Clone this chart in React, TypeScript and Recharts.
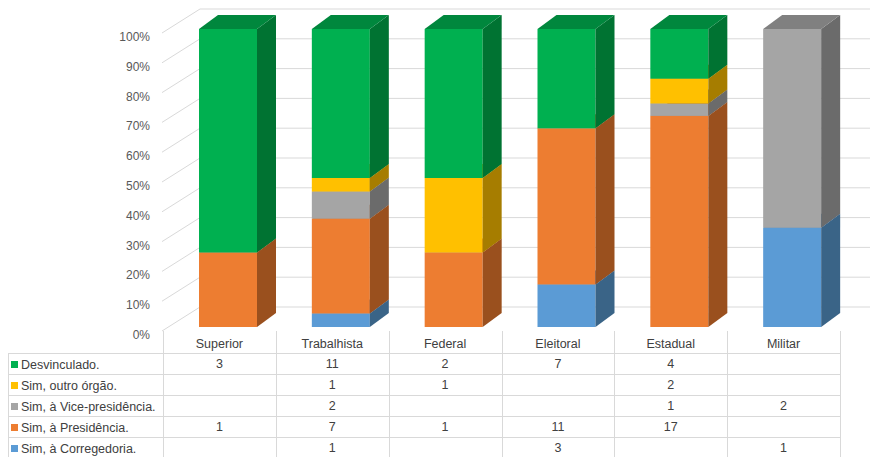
import React from 'react';
import { BarChart, Bar, XAxis, YAxis, CartesianGrid } from 'recharts';

const categories = ['Superior', 'Trabalhista', 'Federal', 'Eleitoral', 'Estadual', 'Militar'];
const desvinculado: (number | null)[] = [3, 11, 2, 7, 4, null];
const outroOrgao: (number | null)[] = [null, 1, 1, null, 2, null];
const vicePresidencia: (number | null)[] = [null, 2, null, null, 1, 2];
const presidencia: (number | null)[] = [1, 7, 1, 11, 17, null];
const corregedoria: (number | null)[] = [null, 1, null, 3, null, 1];
const yTicks = [0, 0.1, 0.2, 0.3, 0.4, 0.5, 0.6, 0.7, 0.8, 0.9, 1];
const yTickLabels = ['0%', '10%', '20%', '30%', '40%', '50%', '60%', '70%', '80%', '90%', '100%'];

// stack order: bottom to top
const series = [
  { key: 'corregedoria', name: 'Sim, à Corregedoria.', values: corregedoria, front: '#5B9BD5', side: '#3A6487', top: '#4B80B0' },
  { key: 'presidencia', name: 'Sim, à Presidência.', values: presidencia, front: '#ED7D31', side: '#9A501E', top: '#C4672A' },
  { key: 'vice', name: 'Sim, à Vice-presidência.', values: vicePresidencia, front: '#A5A5A5', side: '#6B6B6B', top: '#808080' },
  { key: 'outro', name: 'Sim, outro órgão.', values: outroOrgao, front: '#FFC000', side: '#A67D00', top: '#D9A300' },
  { key: 'desv', name: 'Desvinculado.', values: desvinculado, front: '#00B050', side: '#007332', top: '#00873D' },
];

const data = categories.map((c, i) => {
  const row: Record<string, any> = { category: c };
  series.forEach((s) => {
    row[s.key] = s.values[i] ?? 0;
  });
  return row;
});

const SHIFT = 9;
const DX = 19;
const DY = -14;

const make3D = (front: string, side: string, top: string) => (props: any) => {
  const { x, y, width, height } = props;
  if (!height || height <= 0.01 || !width) return <g />;
  const X = x + SHIFT;
  return (
    <g>
      <rect x={X} y={y} width={width} height={height} fill={front} />
      <polygon
        points={`${X + width},${y} ${X + width + DX},${y + DY} ${X + width + DX},${y + height + DY} ${X + width},${y + height}`}
        fill={side}
      />
      <polygon
        points={`${X},${y} ${X + DX},${y + DY} ${X + width + DX},${y + DY} ${X + width},${y}`}
        fill={top}
      />
    </g>
  );
};

const gridLine = (p: any) => {
  const { x1, x2, y1 } = p;
  return (
    <g key={p.key}>
      <line x1={x1 + 37} y1={y1 - 20} x2={x2 + 30} y2={y1 - 20} stroke="#D9D9D9" strokeWidth={1} />
      <line x1={x1 - 1} y1={y1 + 4} x2={x1 + 37} y2={y1 - 20} stroke="#D9D9D9" strokeWidth={1} />
    </g>
  );
};

const YTick = (props: any) => {
  const { y, payload, index } = props;
  const idx = yTicks.findIndex((t) => Math.abs(t - payload.value) < 1e-6);
  const label = yTickLabels[idx >= 0 ? idx : index] ?? '';
  return (
    <text x={150} y={y + 8} textAnchor="end" dominantBaseline="central" fontSize={12} fill="#595959" fontFamily="Liberation Sans, Arial, sans-serif">
      {label}
    </text>
  );
};

const PLOT_LEFT = 163;
const PLOT_RIGHT = 840;
const COL_W = (PLOT_RIGHT - PLOT_LEFT) / categories.length;
const ROW_TOPS = [353, 374, 395, 416, 437];
const ROW_H = 21;
const tableRows = [...series].reverse();

export default function App() {
  const font = 'Liberation Sans, Arial, sans-serif';
  return (
    <div style={{ position: 'absolute', left: 0, top: 0, width: 873, height: 457, background: '#fff', fontFamily: font, overflow: 'hidden' }}>
      <BarChart
        width={873}
        height={350}
        data={data}
        stackOffset="expand"
        margin={{ top: 29, right: 33, bottom: 23, left: 103 }}
        barSize={58}
      >
        <CartesianGrid vertical={false} horizontal={gridLine} />
        <XAxis dataKey="category" hide />
        <YAxis width={60} ticks={yTicks} domain={[0, 1]} axisLine={false} tickLine={false} tick={<YTick />} interval={0} />
        {series.map((s) => (
          <Bar key={s.key} dataKey={s.key} name={s.name} stackId="a" isAnimationActive={false} shape={make3D(s.front, s.side, s.top)} />
        ))}
      </BarChart>
      {/* data table */}
      {categories.map((c, i) => (
        <div
          key={c}
          style={{ position: 'absolute', left: PLOT_LEFT + i * COL_W, top: 336, width: COL_W, height: 17, lineHeight: '17px', textAlign: 'center', fontSize: 12.5, color: '#404040' }}
        >
          {c}
        </div>
      ))}
      {Array.from({ length: categories.length + 1 }).map((_, k) => (
        <div key={'v' + k} style={{ position: 'absolute', left: PLOT_LEFT + k * COL_W, top: 331, width: 1, height: 126, background: '#D9D9D9' }} />
      ))}
      <div style={{ position: 'absolute', left: 8, top: 353, width: 1, height: 104, background: '#D9D9D9' }} />
      {[...ROW_TOPS, 457].map((t, k) => (
        <div key={'h' + k} style={{ position: 'absolute', left: 8, top: t, width: PLOT_RIGHT - 8, height: 1, background: '#D9D9D9' }} />
      ))}
      {tableRows.map((s, r) => (
        <React.Fragment key={s.key}>
          <div style={{ position: 'absolute', left: 11, top: ROW_TOPS[r] + 1, height: ROW_H, display: 'flex', alignItems: 'center', fontSize: 12.5, color: '#404040', whiteSpace: 'nowrap' }}>
            <span style={{ display: 'inline-block', width: 7, height: 7, background: s.front, marginRight: 3 }} />
            {s.name}
          </div>
          {s.values.map((v, i) => (
            <div
              key={i}
              style={{ position: 'absolute', left: PLOT_LEFT + i * COL_W, top: ROW_TOPS[r] + 1, width: COL_W, height: ROW_H, lineHeight: ROW_H + 'px', textAlign: 'center', fontSize: 12.5, color: '#404040' }}
            >
              {v ?? ''}
            </div>
          ))}
        </React.Fragment>
      ))}
    </div>
  );
}
